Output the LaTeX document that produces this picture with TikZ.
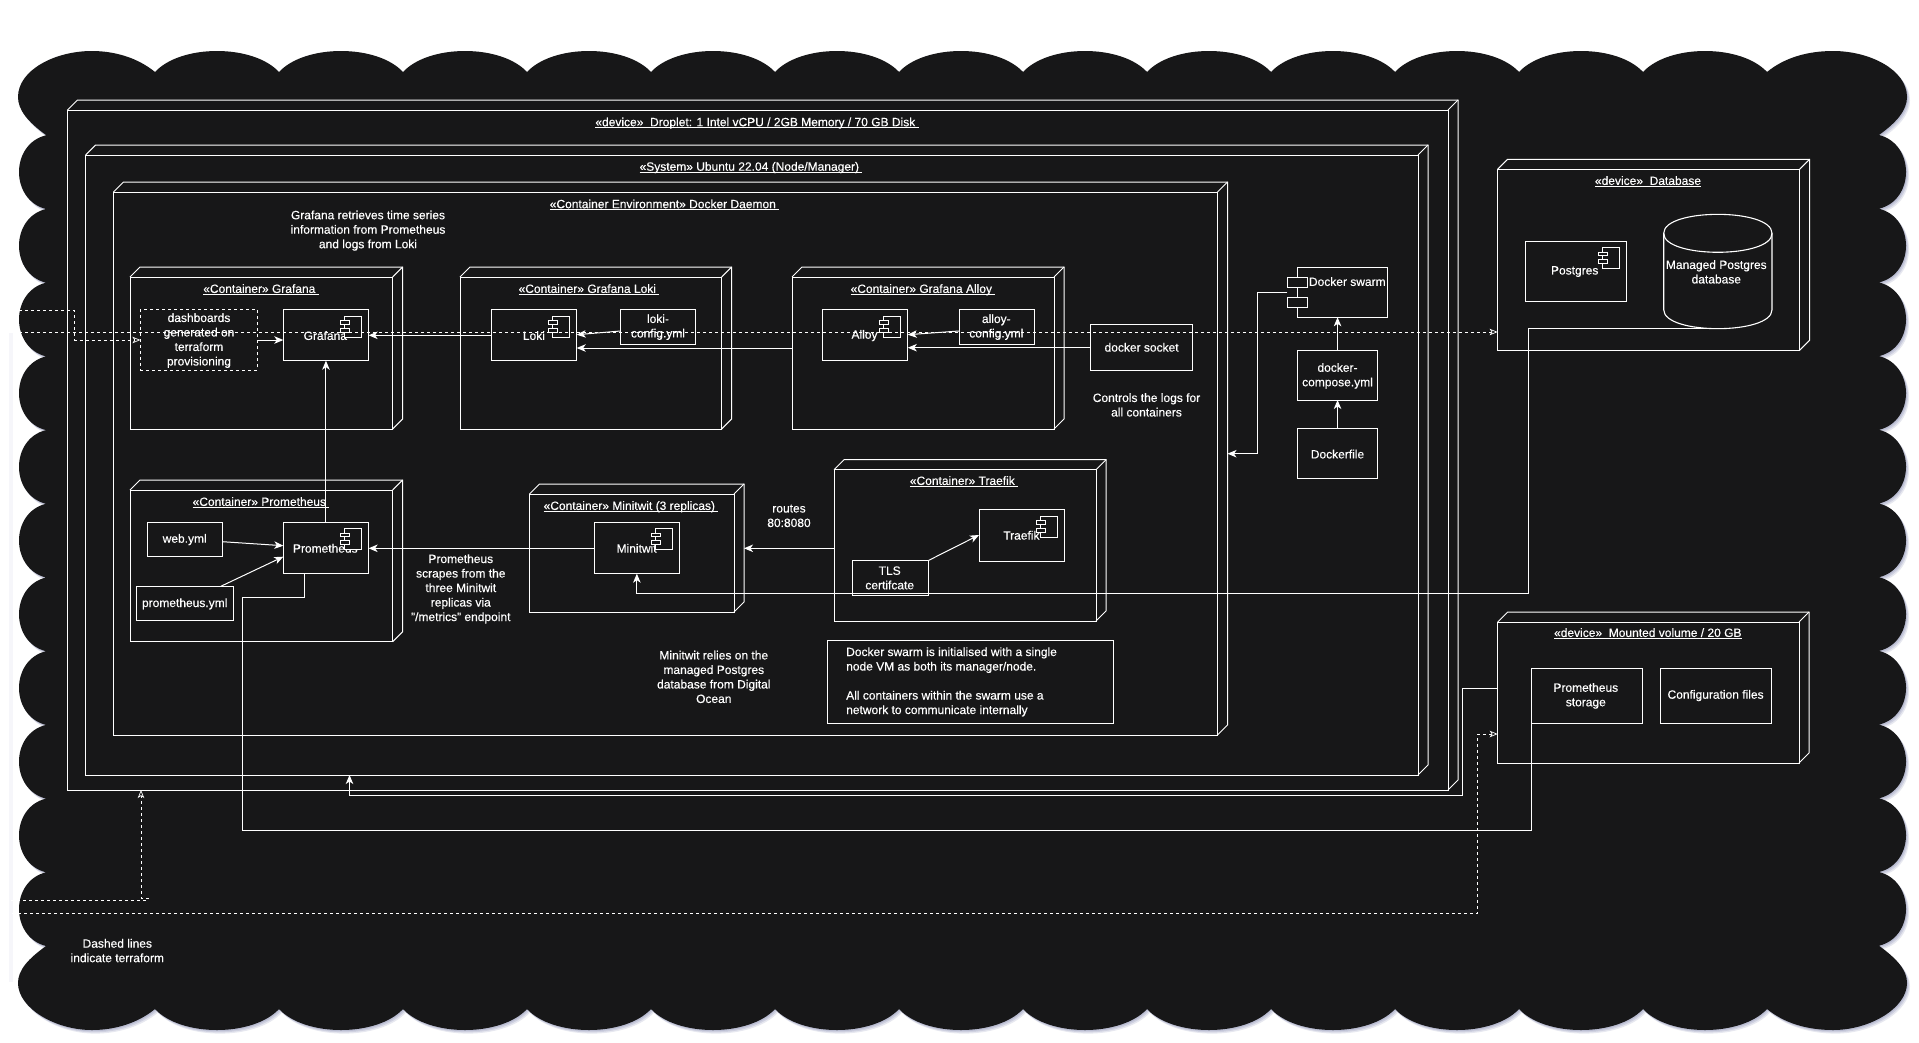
\documentclass[tikz,border=0pt]{standalone}
\usepackage{fontspec}
\setmainfont[FakeBold=0.35]{Liberation Sans}
\usetikzlibrary{arrows.meta,calc}
\definecolor{bg}{HTML}{171718}
\definecolor{shadowc}{HTML}{8A8FB4}
\definecolor{faintc}{HTML}{F6F6FA}
\tikzset{
  ln/.style={draw=white,line width=1pt},
  boxn/.style={ln,fill=none,inner sep=0pt,outer sep=0pt,anchor=north west},
  dashbox/.style={boxn,dash pattern=on 3pt off 3pt},
  lbl/.style={text=white,align=center,inner sep=0pt,font=\fontsize{12}{14.5}\selectfont},
  ttl/.style={text=white,inner sep=0pt,anchor=base,font=\fontsize{12}{14.5}\selectfont},
  arr/.style={ln,-{Stealth[length=9pt,width=7.5pt,inset=2.5pt]}},
  plain/.style={ln},
  dsh/.style={draw=white,line width=1pt,dash pattern=on 3pt off 3pt},
  harr/.style={dsh,-{Stealth[open,fill=bg,length=8pt,width=6.5pt,inset=2pt,line width=0.7pt,sep=0pt]}},
  ic/.style={draw=white,line width=0.9pt,fill=bg},
}
% box: name x1 y1 x2 y2
\newcommand\rbox[6][boxn]{\node[#1,minimum width={(#5-#3)*1pt},minimum height={(#6-#4)*1pt}] (#2) at (#3,#4) {};}
% three-dimensional device: name x1 y1 x2 y2 (front face); depth 10
\newcommand\devbox[5]{%
  \rbox{#1}{#2}{#3}{#4}{#5}
  \draw[ln,line join=miter] (#1.north west) -- ++(10,-10) -- ($(#1.north east)+(10,-10)$) -- ($(#1.south east)+(10,-10)$) -- (#1.south east);
  \draw[ln] (#1.north east) -- ++(10,-10);
}
\newcommand\ulx[1]{$\underline{\smash{\hbox{#1}}}$}
\newcommand\lbl[4]{\node[lbl] (#1) at (#2,#3+0.6) {#4};}
\newcommand\ttl[4]{\node[ttl] (#1) at (#2,#3+4.2) {\ulx{#4}};}
\newcommand\comp[1]{%
  \filldraw[ic] ([xshift=-24pt,yshift=-6.6pt]#1.north east) rectangle ([xshift=-7pt,yshift=-27.3pt]#1.north east);
  \filldraw[ic] ([xshift=-28pt,yshift=-11pt]#1.north east) rectangle ([xshift=-19pt,yshift=-14.6pt]#1.north east);
  \filldraw[ic] ([xshift=-28pt,yshift=-18.6pt]#1.north east) rectangle ([xshift=-19pt,yshift=-22.3pt]#1.north east);
}
\newcommand\cloudpath{(46,135)
  .. controls (28,122) and (18,110) .. (18,97)
  .. controls (18,70) and (55,51) .. (92,51)
  .. controls (115,51) and (138,58) .. (155,72)
  \foreach \i in {0,...,12}{ .. controls ({155+124*\i+26},44) and ({155+124*\i+98},44) .. ({155+124*(\i+1)},72)}
  .. controls (1784,58) and (1807,51) .. (1833,51)
  .. controls (1870,51) and (1907,70) .. (1907,97)
  .. controls (1907,110) and (1897,122) .. (1879,135)
  \foreach \i in {0,...,10}{ .. controls (1915,{135+73.7*\i+9}) and (1915,{135+73.7*\i+65}) .. (1879,{135+73.7*(\i+1)})}
  .. controls (1897,959) and (1907,970) .. (1907,983)
  .. controls (1907,1008) and (1870,1030) .. (1833,1030)
  .. controls (1807,1030) and (1784,1023) .. (1767,1009)
  \foreach \i in {0,...,12}{ .. controls ({1767-124*\i-26},1037) and ({1767-124*\i-98},1037) .. ({1767-124*(\i+1)},1009)}
  .. controls (138,1023) and (115,1030) .. (92,1030)
  .. controls (55,1030) and (18,1008) .. (18,983)
  .. controls (18,970) and (28,959) .. (46,946)
  \foreach \i in {0,...,10}{ .. controls (10,{946-73.7*\i-9}) and (10,{946-73.7*\i-65}) .. (46,{946-73.7*(\i+1)})}
  -- cycle}
\begin{document}
\begin{tikzpicture}[x=1pt,y=-1pt]
\useasboundingbox (0,0) rectangle (1919,1042);
\fill[white] (0,0) rectangle (1919,1042);
% faint strip at the far left
\draw[draw=faintc,line width=4pt] (10.5,333) -- (10.5,982);
% cloud with its soft shadow
\begin{scope}[shift={(3,3.6)}]
\fill[shadowc,opacity=0.2] \cloudpath;
\end{scope}
\begin{scope}[shift={(2,2.4)}]
\fill[shadowc,opacity=0.25] \cloudpath;
\end{scope}
\begin{scope}[shift={(1,1.2)}]
\fill[shadowc,opacity=0.3] \cloudpath;
\end{scope}
\fill[bg] \cloudpath;

% devices
\devbox{droplet}{67.5}{110}{1448}{790}
\devbox{system}{85.7}{155}{1418}{775}
\devbox{daemon}{113.5}{192}{1217.5}{735}
\devbox{cgrafana}{130}{277}{392.6}{429}
\devbox{cloki}{460}{277}{721.6}{429}
\devbox{calloy}{792}{277}{1054}{429}
\devbox{cprom}{130}{490}{392.6}{641.7}
\devbox{cmini}{529.5}{494}{734}{612}
\devbox{ctraefik}{834}{469.7}{1096}{621}
\devbox{dbdev}{1497.6}{169.3}{1799.6}{350.3}
\devbox{voldev}{1497.7}{622}{1799}{763}

% titles
\ttl{tdroplet}{757}{122}{«device»\ \ Droplet: 1 Intel vCPU / 2GB Memory / 70 GB Disk\ }
\ttl{tsystem}{751}{166.5}{«System» Ubuntu 22.04 (Node/Manager)\ }
\ttl{tdaemon}{664.5}{204}{«Container Environment» Docker Daemon\ }
\ttl{tgrafana}{261}{288.7}{«Container» Grafana\ }
\ttl{tloki}{589}{288.7}{«Container» Grafana Loki\ }
\ttl{talloy}{923}{288.7}{«Container» Grafana Alloy\ }
\ttl{tprom}{261}{501.7}{«Container» Prometheus\ }
\ttl{tmini}{631}{505.7}{«Container» Minitwit (3 replicas)\ }
\ttl{ttraefik}{964}{480.7}{«Container» Traefik\ }
\ttl{tdb}{1648}{180.7}{«device»\ \ Database}
\ttl{tvol}{1647.8}{632.7}{«device»\ \ Mounted volume / 20 GB}

% inner boxes
\rbox[dashbox]{dash}{140.4}{309.7}{257.5}{370.3}
\rbox{grafana}{283.3}{309.7}{368.6}{360.7}
\rbox{loki}{491.4}{309.7}{576.7}{360.7}
\rbox{lokicfg}{620.4}{309.3}{695.5}{344}
\rbox{alloy}{822.4}{309.7}{907.8}{360.7}
\rbox{alloycfg}{959}{309.3}{1034.7}{344}
\rbox{socket}{1090.6}{324.3}{1192.7}{370.7}
\rbox{prom}{283.3}{522.3}{368.6}{573.7}
\rbox{webyml}{147.3}{522.3}{222.4}{556.3}
\rbox{promyml}{136.3}{586.3}{233.5}{620.3}
\rbox{mini}{594.2}{522.3}{679.5}{573.7}
\rbox{traefik}{979}{509.7}{1064.7}{561}
\rbox{tls}{852.7}{560.7}{928}{595.3}
\rbox{note}{827.2}{640.3}{1113.4}{723.7}
\rbox{swarm}{1297.5}{267}{1387.8}{317.3}
\rbox{compose}{1297.5}{350.3}{1377.6}{400}
\rbox{dockerfile}{1297.5}{428.5}{1377.6}{478.5}
\rbox{postgres}{1525}{241.3}{1626}{301.7}
\rbox{pstore}{1531}{668}{1642.7}{723.3}
\rbox{cfgfiles}{1660.5}{668}{1771.6}{723.3}

% cylinder
\coordinate (cylb) at (1718,328.7);
\draw[ln,line width=1.1pt] (1663.7,233.3) .. controls (1663.7,208) and (1772,208) .. (1772,233.3)
  -- (1772,309.7) .. controls (1772,335) and (1663.7,335) .. (1663.7,309.7) -- cycle;
\draw[ln,line width=1.1pt] (1663.7,233.3) .. controls (1663.7,258.6) and (1772,258.6) .. (1772,233.3);

% labels
\lbl{l1}{368}{230}{Grafana retrieves time series\\information from Prometheus\\and logs from Loki}
\lbl{l2}{199}{340}{dashboards\\generated on\\terraform\\provisioning}
\lbl{l3}{325.3}{335}{Grafana}
\lbl{l4}{533.9}{335}{Loki}
\lbl{l5}{864.5}{335}{Alloy}
\lbl{l6}{658}{326.5}{loki-\\config.yml}
\lbl{l7}{996.3}{326.5}{alloy-\\config.yml}
\lbl{l8}{1141.6}{346.7}{docker socket}
\lbl{l9}{1146.5}{404.3}{Controls the logs for\\all containers}
\lbl{l10}{1347.3}{281}{Docker swarm}
\lbl{l11}{1337.5}{375.3}{docker-\\compose.yml}
\lbl{l12}{1337.5}{453.5}{Dockerfile}
\lbl{l13}{1574.7}{271}{Postgres}
\lbl{l14}{1716.3}{271.3}{Managed Postgres\\database}
\lbl{l15}{184.7}{539}{web.yml}
\lbl{l16}{184.7}{603.3}{prometheus.yml}
\lbl{l17}{325.3}{547.7}{Prometheus}
\lbl{l18}{460.8}{588.3}{Prometheus\\scrapes from the\\three Minitwit\\replicas via\\"/metrics" endpoint}
\lbl{l19}{636.6}{547.7}{Minitwit}
\lbl{l20}{789}{515.3}{routes\\80:8080}
\lbl{l21}{1021.4}{534.7}{Traefik}
\lbl{l22}{889.7}{577.3}{TLS\\certifcate}
\lbl{l23}{713.8}{676.3}{Minitwit relies on the\\managed Postgres\\database from Digital\\Ocean}
\node[lbl,align=left,anchor=west] (l24) at (846,681.9) {Docker swarm is initialised with a single\\node VM as both its manager/node.\\[14.5pt]All containers within the swarm use a\\network to communicate internally};
\lbl{l25}{1585.8}{695.3}{Prometheus\\storage}
\lbl{l26}{1715.6}{695}{Configuration files}
\lbl{l27}{117.3}{950}{Dashed lines\\indicate terraform}

% component icons
\comp{grafana}\comp{loki}\comp{alloy}\comp{prom}\comp{mini}\comp{traefik}\comp{postgres}
\filldraw[ic] (swarm.north west |- 0,277.7) ++(-10.2,0) rectangle ++(20.5,9.6);
\filldraw[ic] (swarm.north west |- 0,297.3) ++(-10.2,0) rectangle ++(20.5,10);
\coordinate (tabL) at ($(swarm.north west |- 0,292)+(-10.2,0)$);

% solid connectors
\draw[arr] (dash.east |- 0,340) -- (grafana.west |- 0,340);
\draw[arr] (loki.west |- 0,335.3) -- (grafana.east |- 0,335.3);
\draw[arr] (lokicfg.west |- 0,331) -- (loki.east |- 0,334.7);
\draw[arr] (calloy.west |- 0,348) -- (loki.east |- 0,348);
\draw[arr] (alloycfg.west |- 0,331) -- (alloy.east |- 0,334.7);
\draw[arr] (socket.west |- 0,347.7) -- (alloy.east |- 0,347.7);
\draw[arr] (prom.north) -- (grafana.south);
\draw[arr] (mini.west |- 0,548.3) -- (prom.east |- 0,548.3);
\draw[arr] (webyml.east |- 0,541.7) -- (prom.west |- 0,545.7);
\draw[arr] ($(promyml.north east)+(-12.7,0)$) -- (prom.west |- 0,556.7);
\draw[arr] (ctraefik.west |- 0,548.3) -- ($(cmini.east |- 0,548.3)+(10,0)$);
\draw[arr] (tls.north east) -- (traefik.west |- 0,535);
\draw[arr] (cylb) -- (1528,328.7) -- (1528,593.3) -- (mini.south |- 0,593.3) -- (mini.south);
\draw[plain] ($(prom.south west)+(21.2,0)$) -- ++(0,23.6) -- (242.4,597.3) -- (242.4,830.3) -- (pstore.south west |- 0,830.3) -- (pstore.south west);
\draw[arr] (tabL) -- (1257.6,292) -- (1257.6,453.7) -- ($(daemon.east |- 0,453.7)+(10,0)$);
\draw[arr] (compose.north) -- (compose.north |- swarm.south);
\draw[arr] (dockerfile.north) -- (dockerfile.north |- compose.south);
\draw[arr] (voldev.west |- 0,688) -- (1462,688) -- (1462,795) -- (349.5,795) -- (349.5,775);

% dashed connectors
\coordinate (s1) at (13,310.7);
\coordinate (s2) at (13,332);
\coordinate (s3) at (11,900);
\coordinate (s4) at (12,913);
\draw[harr] (s2) -- (dbdev.west |- 0,332);
\draw[harr] (s1) -- (74.3,310.7) -- (74.3,340) -- (dash.west |- 0,340);
\draw[harr] (s3) -- (148,900) -- (148,898) -- (141,898) -- (141,790);
\draw[harr] (s4) -- (1477.5,913) -- (1477.5,734) -- (voldev.west |- 0,734);
\end{tikzpicture}
\end{document}
